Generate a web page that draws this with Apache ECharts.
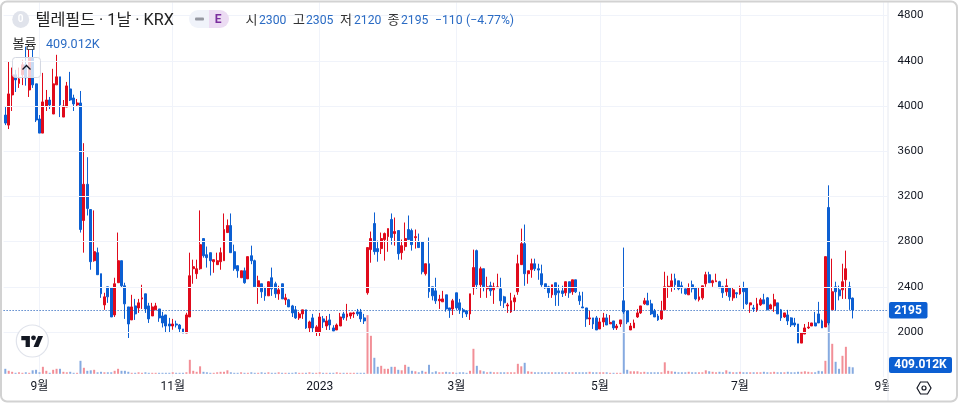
<!DOCTYPE html>
<html><head><meta charset="utf-8">
<style>html,body{margin:0;padding:0;background:#fff}#c{width:960px;height:404px}</style>
<script src="https://cdn.jsdelivr.net/npm/echarts@6/dist/echarts.min.js"></script>
</head><body><div id="c"></div>
<script>
// [open, close, low, high]
const candles = [
[3920,3849,3831,3991],[3831,4107,3796,4391],[4098,4276,3956,4340],[4276,4231,4124,4320],[4200,4240,4160,4340],
[4276,4365,4185,4410],[4365,4250,4180,4525],[4142,4425,4080,4500],[4425,4187,4160,4500],[4196,3876,3858,4196],
[3885,3760,3760,3920],[3760,4036,3760,4293],[4000,4053,3956,4142],[4053,4009,3973,4080],[3929,4196,3929,4329],
[4187,4258,4187,4453],[4258,4009,3902,4258],[3902,4000,3902,4053],[3991,4178,3991,4213],[4151,4053,4044,4302],
[4071,4018,3956,4100],[4009,4027,4000,4062],[4027,2907,2880,4133],[2987,3307,2702,3671],[3307,3093,3031,3547],
[3084,2622,2551,3084],[2631,2711,2622,3076],[2702,2507,2507,2747],[2516,2338,2302,2516],[2240,2311,2196,2347],
[2400,2311,2258,2400],[2391,2133,2133,2391],[2151,2427,2133,2480],[2436,2631,2436,2880],[2631,2409,2390,2631],
[2409,2249,2116,2436],[2222,2071,1947,2222],[2107,2222,2107,2329],[2231,2160,2107,2293],[2213,2258,2169,2293],
[2293,2302,2204,2418],[2338,2204,2169,2338],[2231,2116,2080,2258],[2142,2222,2142,2258],[2196,2231,2196,2258],
[2204,2125,2090,2204],[2142,2080,2040,2178],[2151,2053,1991,2151],[2071,2053,1991,2125],[2053,2071,2020,2116],
[2071,2062,2040,2100],[2062,2027,1991,2071],[2027,1991,1991,2027],[1991,2151,1991,2170],[2133,2498,2133,2702],
[2560,2578,2427,2640],[2516,2560,2470,2640],[2560,2773,2551,3076],[2827,2675,2658,2827],[2684,2658,2570,2756],
[2702,2631,2500,2702],[2622,2640,2524,2640],[2596,2631,2596,2702],[2622,2702,2551,2747],[2631,2907,2631,3049],
[2880,2942,2880,2996],[2942,2702,2702,3049],[2711,2560,2542,2773],[2587,2542,2480,2587],[2480,2542,2480,2542],
[2542,2436,2427,2570],[2470,2667,2470,2667],[2675,2631,2600,2764],[2631,2400,2400,2640],[2400,2453,2249,2498],
[2427,2356,2302,2427],[2391,2320,2276,2400],[2320,2445,2320,2450],[2480,2382,2320,2570],[2427,2338,2302,2445],
[2338,2373,2285,2409],[2427,2293,2293,2427],[2285,2302,2240,2338],[2285,2222,2222,2293],[2231,2169,2133,2240],
[2196,2125,2116,2230],[2125,2160,2107,2178],[2160,2196,2116,2196],[2196,2036,2027,2196],[2036,2089,2000,2100],
[2125,2036,2000,2160],[2000,2045,1965,2060],[2000,2133,1965,2169],[2116,2089,2036,2142],[2053,2098,2018,2142],
[2107,2062,2018,2160],[2036,2009,2009,2060],[2018,2062,2018,2075],[2053,2133,2053,2169],[2160,2125,2107,2178],
[2133,2160,2100,2249],[2142,2169,2116,2169],[2160,2169,2125,2178],[2178,2160,2142,2204],[2178,2116,2089,2204],
[2125,2098,2071,2160],[2347,2747,2330,2747],[2729,2827,2613,2889],[2960,2711,2684,3058],[2738,2711,2622,2809],
[2738,2827,2690,2880],[2818,2871,2631,2880],[2844,2915,2710,2915],[2996,2836,2773,3049],[2871,2889,2764,3013],
[2898,2693,2640,2898],[2702,2764,2640,2818],[2756,2827,2720,2969],[2907,2818,2818,3031],[2898,2773,2720,2915],
[2835,2844,2738,2907],[2800,2747,2747,2871],[2800,2533,2510,2800],[2516,2604,2500,2604],[2604,2356,2302,2836],
[2400,2320,2280,2400],[2364,2276,2249,2480],[2276,2290,2204,2329],[2267,2293,2267,2364],[2329,2204,2180,2329],
[2213,2196,2125,2213],[2204,2276,2150,2293],[2347,2213,2196,2347],[2258,2196,2160,2293],[2196,2178,2125,2213],
[2187,2160,2133,2187],[2160,2338,2107,2338],[2391,2570,2329,2729],[2720,2418,2382,2729],[2418,2560,2302,2578],
[2560,2400,2360,2560],[2382,2400,2302,2489],[2409,2364,2320,2445],[2373,2400,2249,2436],[2392,2400,2392,2516],
[2382,2276,2231,2480],[2311,2258,2213,2320],[2231,2240,2169,2258],[2178,2276,2169,2347],[2267,2302,2187,2329],
[2356,2604,2329,2684],[2596,2782,2596,2915],[2782,2516,2409,2951],[2516,2542,2427,2542],[2551,2604,2480,2649],
[2604,2560,2540,2649],[2560,2548,2462,2604],[2516,2418,2400,2596],[2427,2391,2382,2427],[2400,2347,2302,2409],
[2329,2418,2302,2418],[2436,2329,2231,2436],[2364,2347,2231,2418],[2364,2340,2310,2409],[2347,2445,2320,2445],
[2445,2347,2302,2445],[2356,2462,2329,2462],[2462,2356,2345,2462],[2320,2276,2240,2356],[2222,2213,2213,2356],
[2213,2116,2045,2213],[2116,2125,2062,2187],[2125,2071,2027,2125],[2125,2018,2018,2142],[2027,2089,2027,2125],
[2089,2125,2045,2169],[2125,2062,2062,2160],[2072,2085,2072,2150],[2098,2036,2018,2098],[2036,2053,2018,2071],
[2071,2107,2045,2107],[2276,2178,2160,2747],[2187,2089,2070,2187],[2018,2053,2018,2080],[2036,2080,2036,2110],
[2133,2169,2125,2204],[2169,2231,2160,2231],[2249,2276,2240,2302],[2276,2240,2240,2347],[2249,2160,2150,2285],
[2187,2133,2133,2204],[2142,2107,2098,2160],[2116,2187,2107,2276],[2196,2400,2196,2533],[2396,2405,2302,2498],
[2400,2453,2356,2516],[2471,2418,2373,2516],[2453,2382,2370,2453],[2409,2391,2340,2445],[2382,2338,2330,2382],
[2329,2391,2329,2430],[2418,2382,2350,2455],[2391,2293,2280,2400],[2285,2311,2270,2391],[2302,2409,2285,2409],
[2427,2507,2400,2533],[2507,2436,2436,2533],[2436,2453,2400,2462],[2445,2453,2445,2516],[2445,2391,2391,2453],
[2400,2347,2302,2409],[2356,2409,2320,2471],[2391,2311,2276,2391],[2302,2373,2276,2391],[2347,2338,2300,2350],
[2338,2391,2330,2410],[2391,2356,2204,2445],[2391,2249,2240,2391],[2240,2258,2169,2258],[2213,2204,2178,2240],
[2196,2249,2178,2302],[2240,2285,2231,2302],[2285,2249,2249,2338],[2302,2196,2196,2310],[2204,2240,2204,2250],
[2231,2285,2178,2338],[2258,2160,2160,2258],[2196,2125,2098,2204],[2133,2169,2125,2169],[2151,2098,2062,2196],
[2125,2062,2044,2130],[2080,2062,2044,2125],[2071,1902,1902,2071],[1902,1991,1902,1991],[1982,2036,1982,2071],
[2036,2044,2027,2089],[2053,2080,2053,2080],[2080,2053,2053,2178],[2160,2080,2080,2267],[2098,2036,2036,2110],
[2044,2667,2044,2667],[3102,2080,2060,3298],[2196,2356,2196,2649],[2400,2356,2190,2445],[2373,2320,2280,2410],
[2373,2445,2293,2604],[2462,2560,2293,2720],[2400,2293,2196,2445],[2300,2195,2120,2305]
];
// volume, thousands
const volumes = [
315,189,126,63,95,63,95,63,220,252,95,441,189,63,252,315,315,126,95,126,
63,63,819,378,189,220,252,95,126,95,95,95,189,315,189,189,126,63,63,95,
63,95,63,63,63,63,63,63,63,95,63,63,63,95,882,189,126,472,126,95,63,63,95,126,
126,220,95,63,63,95,63,63,95,63,63,95,63,95,63,63,95,63,63,63,
63,95,63,63,63,95,63,63,95,63,63,63,63,95,63,63,63,63,63,63,63,63,
3698,2394,1008,441,504,315,315,441,441,252,220,567,441,189,158,95,189,126,567,95,158,95,95,126,95,95,63,95,95,63,
189,1575,504,220,158,95,126,95,95,95,95,95,95,95,630,472,693,158,126,95,95,95,95,95,
95,95,95,95,95,95,95,95,95,95,95,126,95,95,95,95,95,63,63,63,63,
3906,252,158,158,158,95,126,95,95,95,95,95,724,189,158,126,95,95,95,126,95,95,95,95,
220,158,126,95,126,95,220,126,95,95,126,95,95,95,95,95,95,126,95,95,126,95,95,95,126,95,95,126,126,158,126,95,95,189,158,
819,3465,1890,756,315,1134,1701,441,409.012
];
const barSlots = 259;
const tickLabels = {10:'9월',49:'11월',92:'2023',132:'3월',174:'5월',215:'7월',257:'9월'};
const symbolTitle = '텔레필드 · 1날 · KRX';
const ohlcLegend = [['시','2300'],['고','2305'],['저','2120'],['종','2195']];
const changeText = '−110';
const changePct = '(−4.77%)';
const volumeName = '볼륨';
const volumeText = '409.012K';
const lastPrice = 2195;

const RED='#e00a1b', BLUE='#0c5fd2', GRID='#f0f3fa', TXT='#131722';
const FONT='Roboto, "Noto Sans CJK KR", sans-serif';
const categories = Array.from({length:barSlots},(_,i)=>tickLabels[i]||'');
const volData = volumes.map((v,i)=>({value:v,itemStyle:{color:candles[i][1]>=candles[i][0]?'#f28f97':'#86aae0'}}));

const txt=(x,y,s,fill,size,extra)=>({type:'text',z:60,x,y,style:Object.assign({text:s,fill,font:(size||12)+'px '+FONT,verticalAlign:'middle'},extra||{})});
const legendEls=[];
const lx=[245.5,293,340,387.5], vx=[259,306,354,401];
ohlcLegend.forEach((p,i)=>{legendEls.push(txt(lx[i],20.5,p[0],'#333',13));legendEls.push(txt(vx[i],20.5,p[1],'#2a6bc4',12.2));});

const chart=echarts.init(document.getElementById('c'),null,{renderer:'canvas'});
chart.setOption({
 animation:false,backgroundColor:'#fff',
 grid:{left:3.6,width:885,top:2.3,height:374.9,containLabel:false},
 xAxis:{type:'category',data:categories,boundaryGap:true,z:0,
   axisLine:{show:false},axisTick:{show:false},
   axisLabel:{interval:(i)=>!!tickLabels[i],color:TXT,fontFamily:FONT,fontSize:12,margin:4,hideOverlap:false},
   splitLine:{show:true,alignWithLabel:true,interval:(i)=>!!tickLabels[i],lineStyle:{color:GRID,width:1}}},
 yAxis:[
  {type:'value',position:'right',min:1600,max:4917.7,interval:400,z:30,
   axisLine:{show:false},axisTick:{show:false},
   axisLabel:{color:TXT,fontFamily:FONT,fontSize:11.5,margin:9,showMinLabel:false,showMaxLabel:false,align:'left',formatter:(v)=>String(v)},
   splitLine:{show:true,showMinLine:false,showMaxLine:false,lineStyle:{color:GRID,width:1}}},
  {type:'value',show:false,min:-214,max:23405,splitLine:{show:false}}
 ],
 series:[
  {type:'bar',yAxisIndex:1,data:volData,barWidth:2,z:1,silent:true},
  {type:'candlestick',data:candles,barWidth:2.4,z:2,silent:true,
   itemStyle:{color:RED,color0:BLUE,borderColor:RED,borderColor0:BLUE,borderWidth:1},
   markLine:{silent:true,symbol:'none',animation:false,label:{show:false},
     lineStyle:{type:[1,2],color:'#0a4fb5',width:1.2},data:[{yAxis:lastPrice}]}}
 ],
 graphic:{elements:[
  {type:'rect',z:10,shape:{x:889,y:3,width:66,height:397},style:{fill:'#fff'}},
  {type:'line',z:11,shape:{x1:888,y1:2,x2:888,y2:401},style:{stroke:'#e6e9f0',lineWidth:1}},
  {type:'rect',z:40,shape:{x:889,y:302,width:38.5,height:16.5,r:2},style:{fill:BLUE}},
  {type:'text',z:41,x:908,y:310.5,style:{text:String(lastPrice),fill:'#fff',font:'bold 12px '+FONT,align:'center',verticalAlign:'middle'}},
  {type:'rect',z:40,shape:{x:889,y:357,width:63,height:16,r:2},style:{fill:BLUE}},
  {type:'text',z:41,x:920.5,y:365.3,style:{text:volumeText,fill:'#fff',font:'bold 12px '+FONT,align:'center',verticalAlign:'middle'}},
  {type:'polygon',z:40,shape:{points:[[917,388],[920.5,382],[927.5,382],[931,388],[927.5,394],[920.5,394]]},style:{fill:'#fff',stroke:TXT,lineWidth:1.2}},
  {type:'circle',z:41,shape:{cx:924,cy:388,r:2},style:{fill:'#fff',stroke:TXT,lineWidth:1.2}},
  {type:'circle',z:60,shape:{cx:20.7,cy:19.5,r:8.5},style:{fill:'#e0e3eb'}},
  {type:'text',z:61,x:20.7,y:19.8,style:{text:'0',fill:'#fff',font:'bold 10px '+FONT,align:'center',verticalAlign:'middle'}},
  txt(35.5,20.5,symbolTitle,'#222',16.2),
  {type:'rect',z:60,shape:{x:189,y:10,width:24,height:18,r:[9,0,0,9]},style:{fill:'#f0f3fa'}},
  {type:'rect',z:60,shape:{x:209,y:10,width:20,height:18,r:[0,9,9,0]},style:{fill:'#ecdcf3'}},
  {type:'rect',z:61,shape:{x:195,y:17.5,width:9,height:3,r:1},style:{fill:'#9598a1'}},
  {type:'text',z:61,x:218,y:19.5,style:{text:'E',fill:'#7b2d9e',font:'bold 12px '+FONT,align:'center',verticalAlign:'middle'}},
  ...legendEls,
  txt(435,20.5,changeText,'#2a6bc4',12.2),
  txt(466,20.5,changePct,'#2a6bc4',12.2),
  txt(12.5,44.5,volumeName,'#222',13),
  txt(46,44.5,volumeText,'#2a6bc4',12.6),
  {type:'rect',z:60,shape:{x:12.5,y:57.5,width:28,height:20,r:3},style:{fill:'rgba(255,255,255,0.78)',stroke:'#d4d8e2',lineWidth:1}},
  {type:'polyline',z:61,shape:{points:[[22.5,69.5],[26.5,65.5],[30.5,69.5]]},style:{fill:'none',stroke:TXT,lineWidth:1.3}},
  {type:'circle',z:60,shape:{cx:32.3,cy:341,r:16},style:{fill:'#fff',stroke:'#e0e3eb',lineWidth:1.2}},
  {type:'polygon',z:61,shape:{points:[[29.9,346.9],[25.6,346.9],[25.6,340.2],[21.3,340.2],[21.3,335.9],[29.9,335.9]]},style:{fill:TXT}},
  {type:'polygon',z:61,shape:{points:[[38.4,346.9],[33.5,346.9],[38.1,335.9],[43,335.9]]},style:{fill:TXT}},
  {type:'circle',z:61,shape:{cx:33.5,cy:337.8,r:2.4},style:{fill:TXT}},
  {type:'rect',z:70,shape:{x:1,y:1.5,width:956,height:400,r:6},style:{fill:'none',stroke:'#d2d2d2',lineWidth:2}}
 ]}
});
</script></body></html>
